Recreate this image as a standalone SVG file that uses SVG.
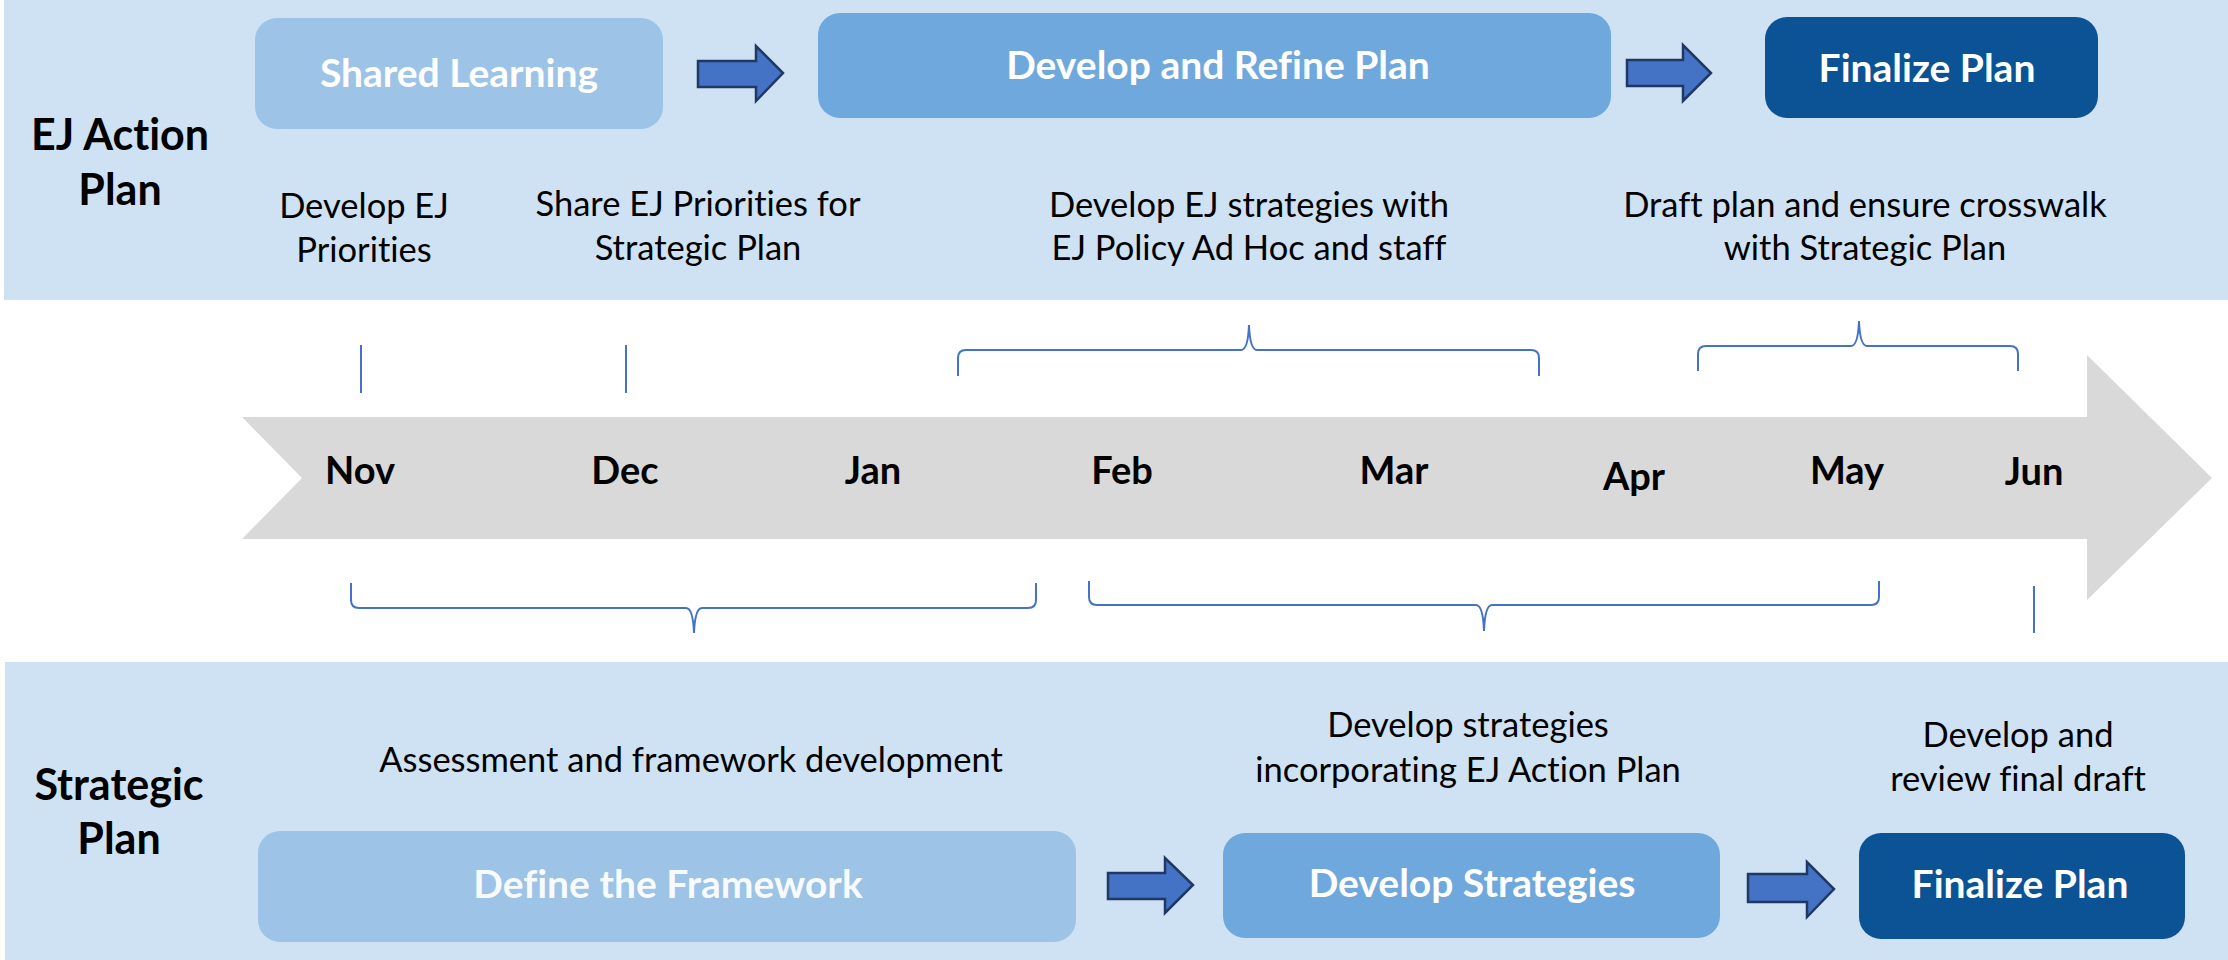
<svg xmlns="http://www.w3.org/2000/svg" width="2228" height="960" viewBox="0 0 2228 960">
  <defs>
    <style>
      .band { fill: #CFE2F3; }
      .box-light { fill: #9DC3E6; }
      .box-mid { fill: #6FA8DC; }
      .box-dark { fill: #0B5394; }
      text { font-family: Lato, "Liberation Sans", sans-serif; font-variant-ligatures: none; text-anchor: middle; }
      .box-title { font-weight: 700; font-size: 39px; fill: #FFFFFF; }
      .row-label { font-weight: 700; font-size: 43px; fill: #000000; }
      .desc { font-weight: 400; font-size: 34.5px; fill: #000000; }
      .month { font-weight: 700; font-size: 38px; fill: #000000; }
      .step-arrow { fill: #4472C4; stroke: #1F3864; stroke-width: 2.5; stroke-linejoin: miter; }
      .brace { fill: none; stroke: #4472C4; stroke-width: 2; }
    </style>
  </defs>

  <rect width="2228" height="960" fill="#FFFFFF"/>

  <!-- swimlane backgrounds -->
  <rect id="lane-ej" class="band" x="4" y="0" width="2224" height="300"/>
  <rect id="lane-strategic" class="band" x="5" y="662" width="2223" height="298"/>

  <!-- timeline arrow -->
  <g id="timeline">
    <polygon points="242,417 2087,417 2087,355 2212,478 2087,600 2087,539 242,539 302,478" fill="#D9D9D9"/>
    <text class="month" x="360" y="484">Nov</text>
    <text class="month" x="625" y="484">Dec</text>
    <text class="month" x="873" y="484">Jan</text>
    <text class="month" x="1122" y="484">Feb</text>
    <text class="month" x="1394" y="484">Mar</text>
    <text class="month" x="1634" y="490">Apr</text>
    <text class="month" x="1847" y="484">May</text>
    <text class="month" x="2034" y="485">Jun</text>
  </g>

  <!-- row labels -->
  <g id="label-ej">
    <text class="row-label" x="120" y="150">EJ Action</text>
    <text class="row-label" x="120" y="205">Plan</text>
  </g>
  <g id="label-strategic">
    <text class="row-label" x="119" y="800">Strategic</text>
    <text class="row-label" x="119" y="854">Plan</text>
  </g>

  <!-- EJ Action Plan phases -->
  <g id="ej-shared-learning">
    <rect class="box-light" x="255" y="18" width="408" height="111" rx="22"/>
    <text class="box-title" x="459" y="87">Shared Learning</text>
  </g>
  <g id="ej-develop-refine">
    <rect class="box-mid" x="818" y="13" width="793" height="105" rx="22"/>
    <text class="box-title" x="1218" y="79">Develop and Refine Plan</text>
  </g>
  <g id="ej-finalize">
    <rect class="box-dark" x="1765" y="17" width="333" height="101" rx="22"/>
    <text class="box-title" x="1927" y="82">Finalize Plan</text>
  </g>

  <!-- EJ Action Plan activity notes -->
  <g id="ej-note-priorities">
    <text class="desc" x="364" y="218">Develop EJ</text>
    <text class="desc" x="364" y="262">Priorities</text>
  </g>
  <g id="ej-note-share">
    <text class="desc" x="698" y="216">Share EJ Priorities for</text>
    <text class="desc" x="698" y="260">Strategic Plan</text>
  </g>
  <g id="ej-note-strategies">
    <text class="desc" x="1249" y="217">Develop EJ strategies with</text>
    <text class="desc" x="1249" y="260">EJ Policy Ad Hoc and staff</text>
  </g>
  <g id="ej-note-draft">
    <text class="desc" x="1865" y="217">Draft plan and ensure crosswalk</text>
    <text class="desc" x="1865" y="260">with Strategic Plan</text>
  </g>

  <!-- Strategic Plan phases -->
  <g id="sp-define">
    <rect class="box-light" x="258" y="831" width="818" height="111" rx="22"/>
    <text class="box-title" x="668" y="898" fill-opacity="0.95">Define the Framework</text>
  </g>
  <g id="sp-strategies">
    <rect class="box-mid" x="1223" y="833" width="497" height="105" rx="22"/>
    <text class="box-title" x="1472" y="897">Develop Strategies</text>
  </g>
  <g id="sp-finalize">
    <rect class="box-dark" x="1859" y="833" width="326" height="106" rx="22"/>
    <text class="box-title" x="2020" y="898">Finalize Plan</text>
  </g>

  <!-- Strategic Plan activity notes -->
  <g id="sp-note-assessment">
    <text class="desc" x="691" y="772">Assessment and framework development</text>
  </g>
  <g id="sp-note-strategies">
    <text class="desc" x="1468" y="737">Develop strategies</text>
    <text class="desc" x="1468" y="782">incorporating EJ Action Plan</text>
  </g>
  <g id="sp-note-final">
    <text class="desc" x="2018" y="747">Develop and</text>
    <text class="desc" x="2018" y="791">review final draft</text>
  </g>

  <!-- connectors: phase arrows, timeline ticks and braces -->
  <g id="connectors">
    <polygon class="step-arrow" points="698,61 756,61 756,46 783,73 756,101 756,87 698,87"/>
    <polygon class="step-arrow" points="1627,60 1683,60 1683,45 1711,73 1683,101 1683,86 1627,86"/>
    <polygon class="step-arrow" points="1108,873 1165,873 1165,858 1193,885 1165,913 1165,899 1108,899"/>
    <polygon class="step-arrow" points="1748,874 1807,874 1807,862 1834,889 1807,917 1807,902 1748,902"/>

    <line class="brace" x1="361" y1="345" x2="361" y2="393"/>
    <line class="brace" x1="626" y1="345" x2="626" y2="393"/>
    <line class="brace" x1="2034" y1="586" x2="2034" y2="633"/>

    <path class="brace" d="M958,376 L958,358 Q958,350 966,350 L1241,350 Q1248,350 1249,325 Q1250,350 1257,350 L1531,350 Q1539,350 1539,358 L1539,376"/>
    <path class="brace" d="M1698,371 L1698,354 Q1698,346 1706,346 L1851,346 Q1858,346 1859,321 Q1860,346 1867,346 L2010,346 Q2018,346 2018,354 L2018,371"/>
    <path class="brace" d="M351,583 L351,600 Q351,608 359,608 L686,608 Q693,608 694,633 Q695,608 702,608 L1028,608 Q1036,608 1036,600 L1036,583"/>
    <path class="brace" d="M1089,581 L1089,597 Q1089,605 1097,605 L1476,605 Q1483,605 1484,631 Q1485,605 1492,605 L1871,605 Q1879,605 1879,597 L1879,581"/>
  </g>
</svg>
